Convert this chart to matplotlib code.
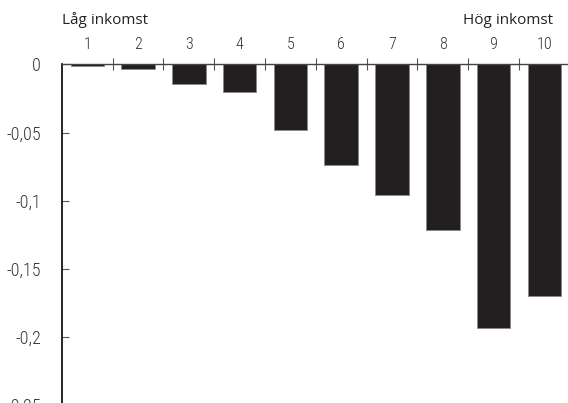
import matplotlib.pyplot as plt
from matplotlib import font_manager
from matplotlib.ticker import FixedLocator, FuncFormatter

deciles = [1, 2, 3, 4, 5, 6, 7, 8, 9, 10]
change = [-0.001, -0.003, -0.014, -0.020, -0.048, -0.074, -0.096, -0.122, -0.194, -0.170]
yticks = [0, -0.05, -0.1, -0.15, -0.2, -0.25]

names = {f.name for f in font_manager.fontManager.ttflist}


def pick(options):
    for o in options:
        if o in names:
            return o
    return 'DejaVu Sans'


narrow = pick(['Liberation Sans Narrow', 'Arial Narrow', 'Roboto Condensed', 'Archivo Narrow',
               'Asap Condensed', 'Barlow Condensed'])

fig = plt.figure(figsize=(5.68, 4.03), dpi=100)
ax = fig.add_axes([0.109, -0.004, 0.894, 0.844])

ax.bar(deciles, change, width=0.66, color='#231f20', edgecolor='#8a8a8a', linewidth=0.6, zorder=2)

ax.set_xlim(0.5, 10.5)
ax.set_ylim(-0.25, 0)

for s in ['bottom', 'right']:
    ax.spines[s].set_visible(False)
ax.spines['left'].set_linewidth(1.2)
ax.spines['top'].set_linewidth(1.0)
ax.spines['top'].set_color('#444444')

# x axis on top, ticks between categories, labels centred
ax.xaxis.tick_top()
ax.xaxis.set_major_locator(FixedLocator([d + 0.5 for d in deciles[:-1]]))
ax.xaxis.set_major_formatter(FuncFormatter(lambda v, p: ''))
ax.xaxis.set_minor_locator(FixedLocator(deciles))
ax.xaxis.set_minor_formatter(FuncFormatter(lambda v, p: str(int(round(v)))))
ax.tick_params(axis='x', which='major', direction='inout', length=8, width=0.8, color='#555555')
ax.tick_params(axis='x', which='minor', length=0, pad=9, labelsize=11.5, labelcolor='#333333')
for lbl in ax.get_xticklabels(minor=True):
    lbl.set_fontfamily(narrow)
    lbl.set_fontweight('light')

ax.set_yticks(yticks)
ax.set_yticklabels(['0' if v == 0 else ('%g' % v).replace('.', ',') for v in yticks])
ax.tick_params(axis='y', direction='in', length=5, width=0.8, color='#555555', pad=15, labelsize=13,
               labelcolor='#333333')
for lbl in ax.get_yticklabels():
    lbl.set_fontfamily(narrow)
    lbl.set_fontweight('light')

fig.text(62 / 568, 1 - 20 / 403, 'Låg inkomst', fontsize=11, family='Open Sans', ha='left', va='center',
         color='#222222')
fig.text(553 / 568, 1 - 20 / 403, 'Hög inkomst', fontsize=11, family='Open Sans', ha='right', va='center',
         color='#222222')

fig.savefig('out.png', dpi=100)
